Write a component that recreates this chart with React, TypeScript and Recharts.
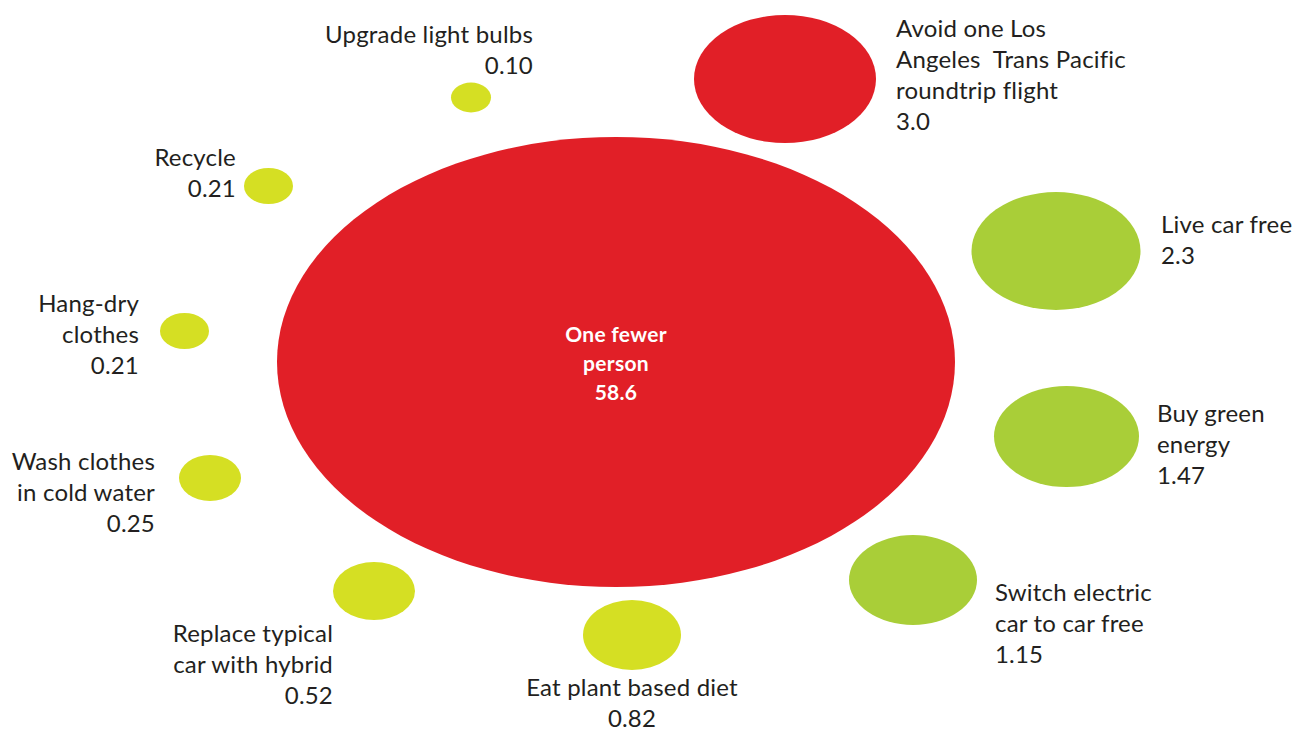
import React from 'react'
import { ScatterChart, Scatter, XAxis, YAxis } from 'recharts'

// actions and their CO2 savings (tonnes per year)
const actions = [
  'One fewer\nperson',
  'Avoid one Los\nAngeles  Trans Pacific\nroundtrip flight',
  'Live car free',
  'Buy green\nenergy',
  'Switch electric\ncar to car free',
  'Eat plant based diet',
  'Replace typical\ncar with hybrid',
  'Wash clothes\nin cold water',
  'Hang-dry\nclothes',
  'Recycle',
  'Upgrade light bulbs',
]
const savings = [58.6, 3.0, 2.3, 1.47, 1.15, 0.82, 0.52, 0.25, 0.21, 0.21, 0.1]
const savingsLabels = ['58.6', '3.0', '2.3', '1.47', '1.15', '0.82', '0.52', '0.25', '0.21', '0.21', '0.10']
const impact = ['high', 'high', 'mid', 'mid', 'mid', 'low', 'low', 'low', 'low', 'low', 'low']

const WIDTH = 1293
const HEIGHT = 731

const COLORS: Record<string, string> = {
  high: '#e11f27',
  mid: '#a9ce38',
  low: '#d5df23',
}

// bubble layout (page px): center, radii, label anchor + first line center
const layout = [
  { x: 616, y: 362, rx: 339, ry: 225, lx: 616, ly: 333, anchor: 'middle', inside: true },
  { x: 785, y: 79, rx: 91, ry: 64, lx: 896, ly: 27, anchor: 'start' },
  { x: 1056, y: 251, rx: 84.5, ry: 59, lx: 1161, ly: 223, anchor: 'start' },
  { x: 1066.5, y: 436.5, rx: 72.5, ry: 50.5, lx: 1157, ly: 412, anchor: 'start' },
  { x: 913, y: 580, rx: 64, ry: 45, lx: 995, ly: 591, anchor: 'start' },
  { x: 632, y: 635, rx: 49, ry: 35, lx: 632, ly: 686, anchor: 'middle' },
  { x: 374, y: 591, rx: 41, ry: 29, lx: 333, ly: 632, anchor: 'end' },
  { x: 210, y: 478, rx: 31, ry: 23, lx: 155, ly: 460, anchor: 'end' },
  { x: 184.5, y: 331, rx: 24.5, ry: 18, lx: 139, ly: 302, anchor: 'end' },
  { x: 268.5, y: 186, rx: 24.5, ry: 18, lx: 236, ly: 156, anchor: 'end' },
  { x: 471, y: 97.5, rx: 20, ry: 15, lx: 533, ly: 33, anchor: 'end' },
]

const data = actions.map((name, i) => ({
  name,
  value: savings[i],
  label: savingsLabels[i],
  impact: impact[i],
  ...layout[i],
}))

const FONT = 'Lato, "Open Sans", sans-serif'

const Bubble = (props: any) => {
  const { cx, cy, payload } = props
  const lines = [...payload.name.split('\n'), payload.label]
  const inside = !!payload.inside
  const lineH = inside ? 29 : 31
  const tx = cx + (payload.lx - payload.x)
  const ty = cy + (payload.ly - payload.y)
  return (
    <g>
      <ellipse cx={cx} cy={cy} rx={payload.rx} ry={payload.ry} fill={COLORS[payload.impact]} />
      <text
        textAnchor={payload.anchor}
        fontFamily={FONT}
        fontSize={inside ? 21 : 24}
        fontWeight={inside ? 700 : 400}
        letterSpacing={inside ? 0.3 : 0.2}
        fill={inside ? '#ffffff' : '#231f20'}
      >
        {lines.map((l: string, k: number) => (
          <tspan key={k} x={tx} y={ty + k * lineH} dominantBaseline="central" style={{ whiteSpace: 'pre' }}>
            {l}
          </tspan>
        ))}
      </text>
    </g>
  )
}

export default function App() {
  return (
    <div style={{ position: 'absolute', left: 0, top: 0, background: '#fff' }}>
      <ScatterChart width={WIDTH} height={HEIGHT} margin={{ top: 0, right: 0, bottom: 0, left: 0 }}>
        <XAxis type="number" dataKey="x" domain={[0, WIDTH]} hide />
        <YAxis type="number" dataKey="y" domain={[0, HEIGHT]} reversed hide />
        <Scatter data={data} shape={<Bubble />} isAnimationActive={false} />
      </ScatterChart>
    </div>
  )
}
